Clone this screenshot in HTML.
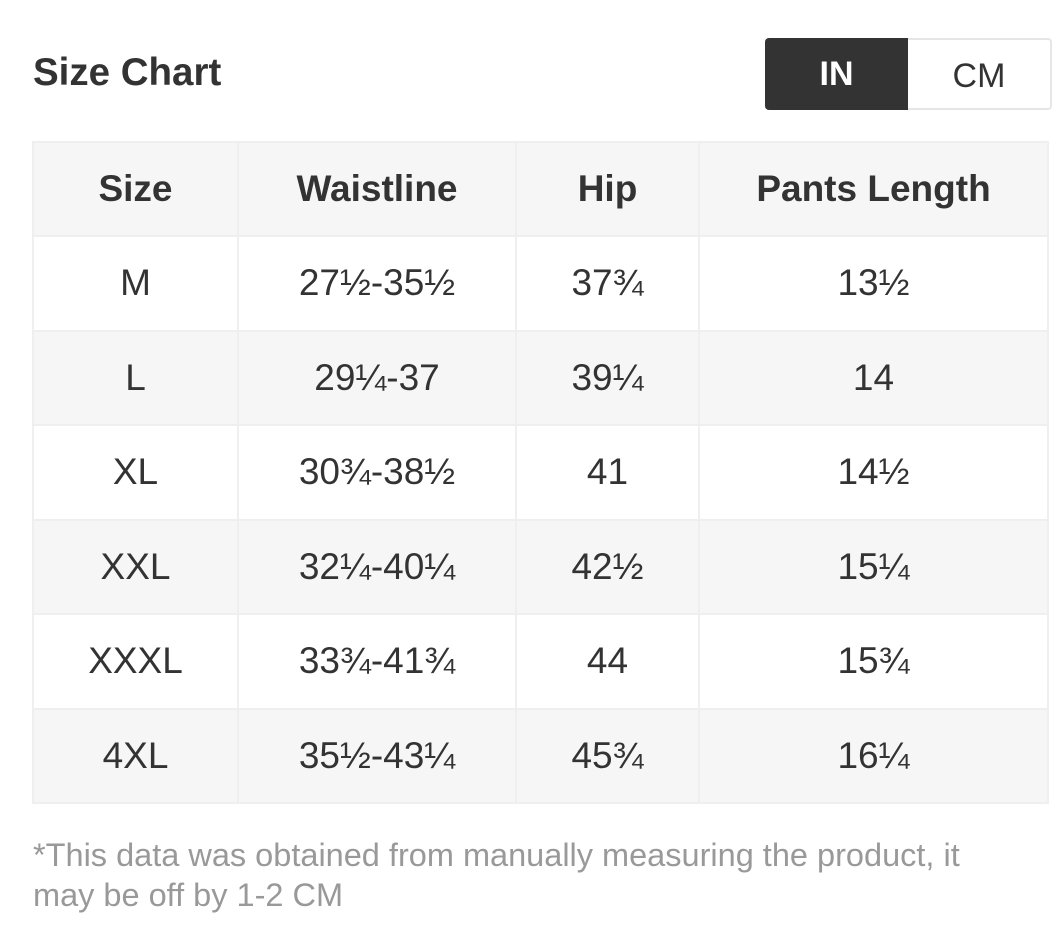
<!DOCTYPE html>
<html><head><style>
html,body{margin:0;padding:0;background:#fff;width:1057px;height:950px;overflow:hidden;font-family:"Liberation Sans",sans-serif;color:#333}
.title{position:absolute;left:33px;top:50px;font-size:38.5px;font-weight:bold;line-height:46px}
.tog{position:absolute;left:765px;top:38px;width:283px;height:68px;border:2px solid #e6e6e6;border-radius:4px;box-sizing:content-box}
.tog div{position:absolute;top:0;height:68px;line-height:72px;text-align:center;font-size:34px}
.in{left:-2px;top:-2px!important;height:72px!important;width:143px;background:#333;color:#fff;font-weight:bold;border-radius:4px 0 0 4px}
.cm{left:141px;width:142px;color:#333}
table{position:absolute;left:32px;top:141px;border-collapse:collapse;width:1017px}
td,th{border:2px solid #efefef;text-align:center;font-size:37px;height:92.5px;padding:0}
th{background:#f6f6f6;font-weight:bold;height:92px}
tr.g td{background:#f6f6f6}
.note{position:absolute;left:33px;top:835px;width:990px;font-size:32.5px;line-height:40px;color:#999}
</style></head><body>
<div class="title">Size Chart</div>
<div class="tog"><div class="in">IN</div><div class="cm">CM</div></div>
<table>
<colgroup><col style="width:205px"><col style="width:278px"><col style="width:183px"><col></colgroup>
<tr><th>Size</th><th>Waistline</th><th>Hip</th><th>Pants Length</th></tr>
<tr><td>M</td><td>27½-35½</td><td>37¾</td><td>13½</td></tr>
<tr class="g"><td>L</td><td>29¼-37</td><td>39¼</td><td>14</td></tr>
<tr><td>XL</td><td>30¾-38½</td><td>41</td><td>14½</td></tr>
<tr class="g"><td>XXL</td><td>32¼-40¼</td><td>42½</td><td>15¼</td></tr>
<tr><td>XXXL</td><td>33¾-41¾</td><td>44</td><td>15¾</td></tr>
<tr class="g"><td>4XL</td><td>35½-43¼</td><td>45¾</td><td>16¼</td></tr>
</table>
<div class="note">*This data was obtained from manually measuring the product, it may be off by 1-2 CM</div>
</body></html>
